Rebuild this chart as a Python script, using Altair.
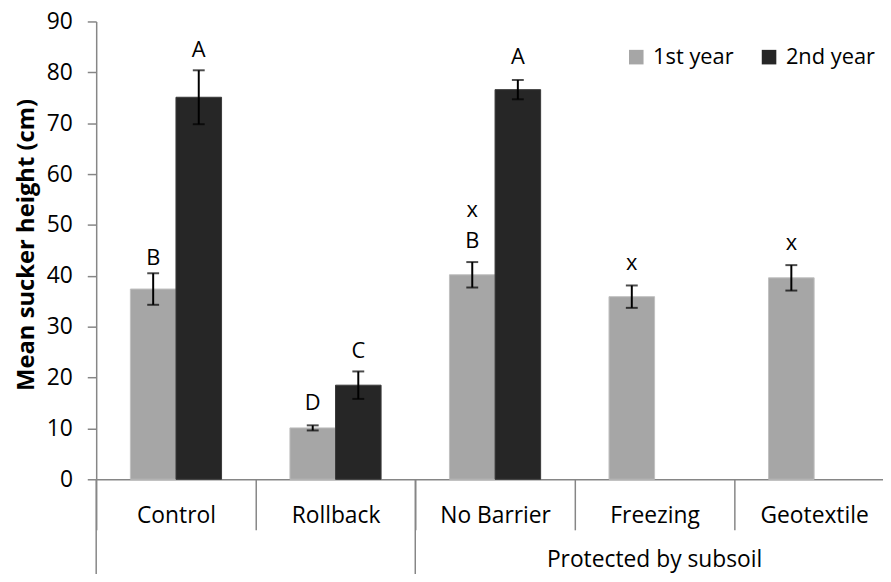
import altair as alt
import pandas as pd

# ---------------- data ----------------
categories = ["Control", "Rollback", "No Barrier", "Freezing", "Geotextile"]
series = ["1st year", "2nd year"]
mean_1st = [37.4, 10.1, 40.2, 35.9, 39.6]
err_1st = [3.1, 0.5, 2.5, 2.2, 2.5]
mean_2nd = [75.1, 18.5, 76.6, None, None]
err_2nd = [5.3, 2.7, 1.9, None, None]

letter_cat = ["Control", "Rollback", "No Barrier", "No Barrier", "Freezing",
              "Geotextile", "Control", "Rollback", "No Barrier"]
letter_series = ["1st year"] * 6 + ["2nd year"] * 3
letter_text = ["B", "D", "B", "x", "x", "x", "A", "C", "A"]
letter_y = [42.2, 13.7, 45.4, 51.5, 41.1, 45.0, 83.1, 23.9, 81.6]

group_title = "Protected by subsoil"
group_starts = ["Control", "No Barrier"]
y_title = "Mean sucker height (cm)"
y_ticks = [0, 10, 20, 30, 40, 50, 60, 70, 80, 90]

# ---------------- tables ----------------
rows = []
for s, means, errs in [(series[0], mean_1st, err_1st), (series[1], mean_2nd, err_2nd)]:
    for c, m, e in zip(categories, means, errs):
        if m is None:
            continue
        rows.append({"category": c, "series": s, "mean": m, "lo": m - e, "hi": m + e})
df = pd.DataFrame(rows)
letters = pd.DataFrame({"category": letter_cat, "series": letter_series,
                        "text": letter_text, "y": letter_y})
groups = pd.DataFrame({"category": group_starts})

W, H = 794, 462
AXIS_GREY = "#868686"
FONT = "Open Sans"

x_scale = alt.Scale(domain=categories, range=[0, 805], paddingInner=0, paddingOuter=0)
xo_scale = alt.Scale(domain=series, paddingInner=0, paddingOuter=0.75)
y_scale = alt.Scale(domain=[0, 90], nice=False)

x_axis = alt.Axis(title=group_title, tickBand="extent", tickSize=51, tickColor=AXIS_GREY,
                  tickWidth=1.5, domainColor=AXIS_GREY, domainWidth=1.5, labelAngle=0,
                  labelFontSize=23, labelBaseline="alphabetic", labelPadding=-7,
                  labelColor="black", labelFont=FONT, titleFont=FONT,
                  titleFontSize=23, titleFontWeight="normal",
                  titleX=563, titleY=88, titleBaseline="alphabetic", titleAlign="center",
                  titleColor="black", grid=False)
y_axis = alt.Axis(values=y_ticks, title=y_title, grid=False, domainColor=AXIS_GREY,
                  domainWidth=1.5, tickColor=AXIS_GREY, tickWidth=1.5, tickSize=9,
                  labelFontSize=23, labelPadding=15, labelColor="black", labelFont=FONT,
                  titleFont=FONT, titleFontSize=24, titleFontWeight="bold",
                  titleX=-63, titleY=225, titleAngle=270, titleBaseline="alphabetic",
                  titleAlign="center", titleColor="black")

X = alt.X("category:N", scale=x_scale, axis=x_axis)
XO = alt.XOffset("series:N", scale=xo_scale)

bars = alt.Chart(df).mark_bar(strokeWidth=1).encode(
    x=X,
    xOffset=XO,
    y=alt.Y("mean:Q", scale=y_scale, axis=y_axis),
    color=alt.Color("series:N", scale=alt.Scale(domain=series, range=["#A6A6A6", "#262626"]),
                    legend=alt.Legend(title=None, orient="none", legendX=534, legendY=25,
                                      direction="horizontal", symbolType="square",
                                      symbolSize=216, symbolStrokeWidth=0,
                                      labelFontSize=22, labelFont=FONT, labelColor="black",
                                      labelOffset=6, columnPadding=24, padding=0)),
    stroke=alt.Stroke("series:N", scale=alt.Scale(domain=series, range=["#BFBFBF", "#3A3A3A"]),
                      legend=None),
)

err_lines = alt.Chart(df).mark_rule(color="black", strokeWidth=2).encode(
    x=X, xOffset=XO, y=alt.Y("lo:Q", scale=y_scale), y2="hi:Q"
)
caps = alt.Chart(df).transform_fold(["lo", "hi"], as_=["end", "val"]).mark_tick(
    color="black", thickness=2, size=12
).encode(x=X, xOffset=XO, y=alt.Y("val:Q", scale=y_scale))

texts = alt.Chart(letters).mark_text(baseline="alphabetic", fontSize=22, font=FONT,
                                     color="black").encode(
    x=X, xOffset=XO, y=alt.Y("y:Q", scale=y_scale), text="text:N"
)

group_lines = alt.Chart(groups).mark_rule(color=AXIS_GREY, strokeWidth=1.5).encode(
    x=alt.X("category:N", scale=x_scale, bandPosition=0),
    y=alt.value(H), y2=alt.value(H + 140)
)

chart = alt.layer(bars, err_lines, caps, texts, group_lines).properties(
    width=W, height=H,
    autosize=alt.AutoSizeParams(type="none"),
    padding={"left": 89, "top": 11, "right": 0, "bottom": 93},
).configure(font=FONT).configure_view(stroke=None)

chart.save("out.html", embed_options={"renderer": "svg", "actions": False})
